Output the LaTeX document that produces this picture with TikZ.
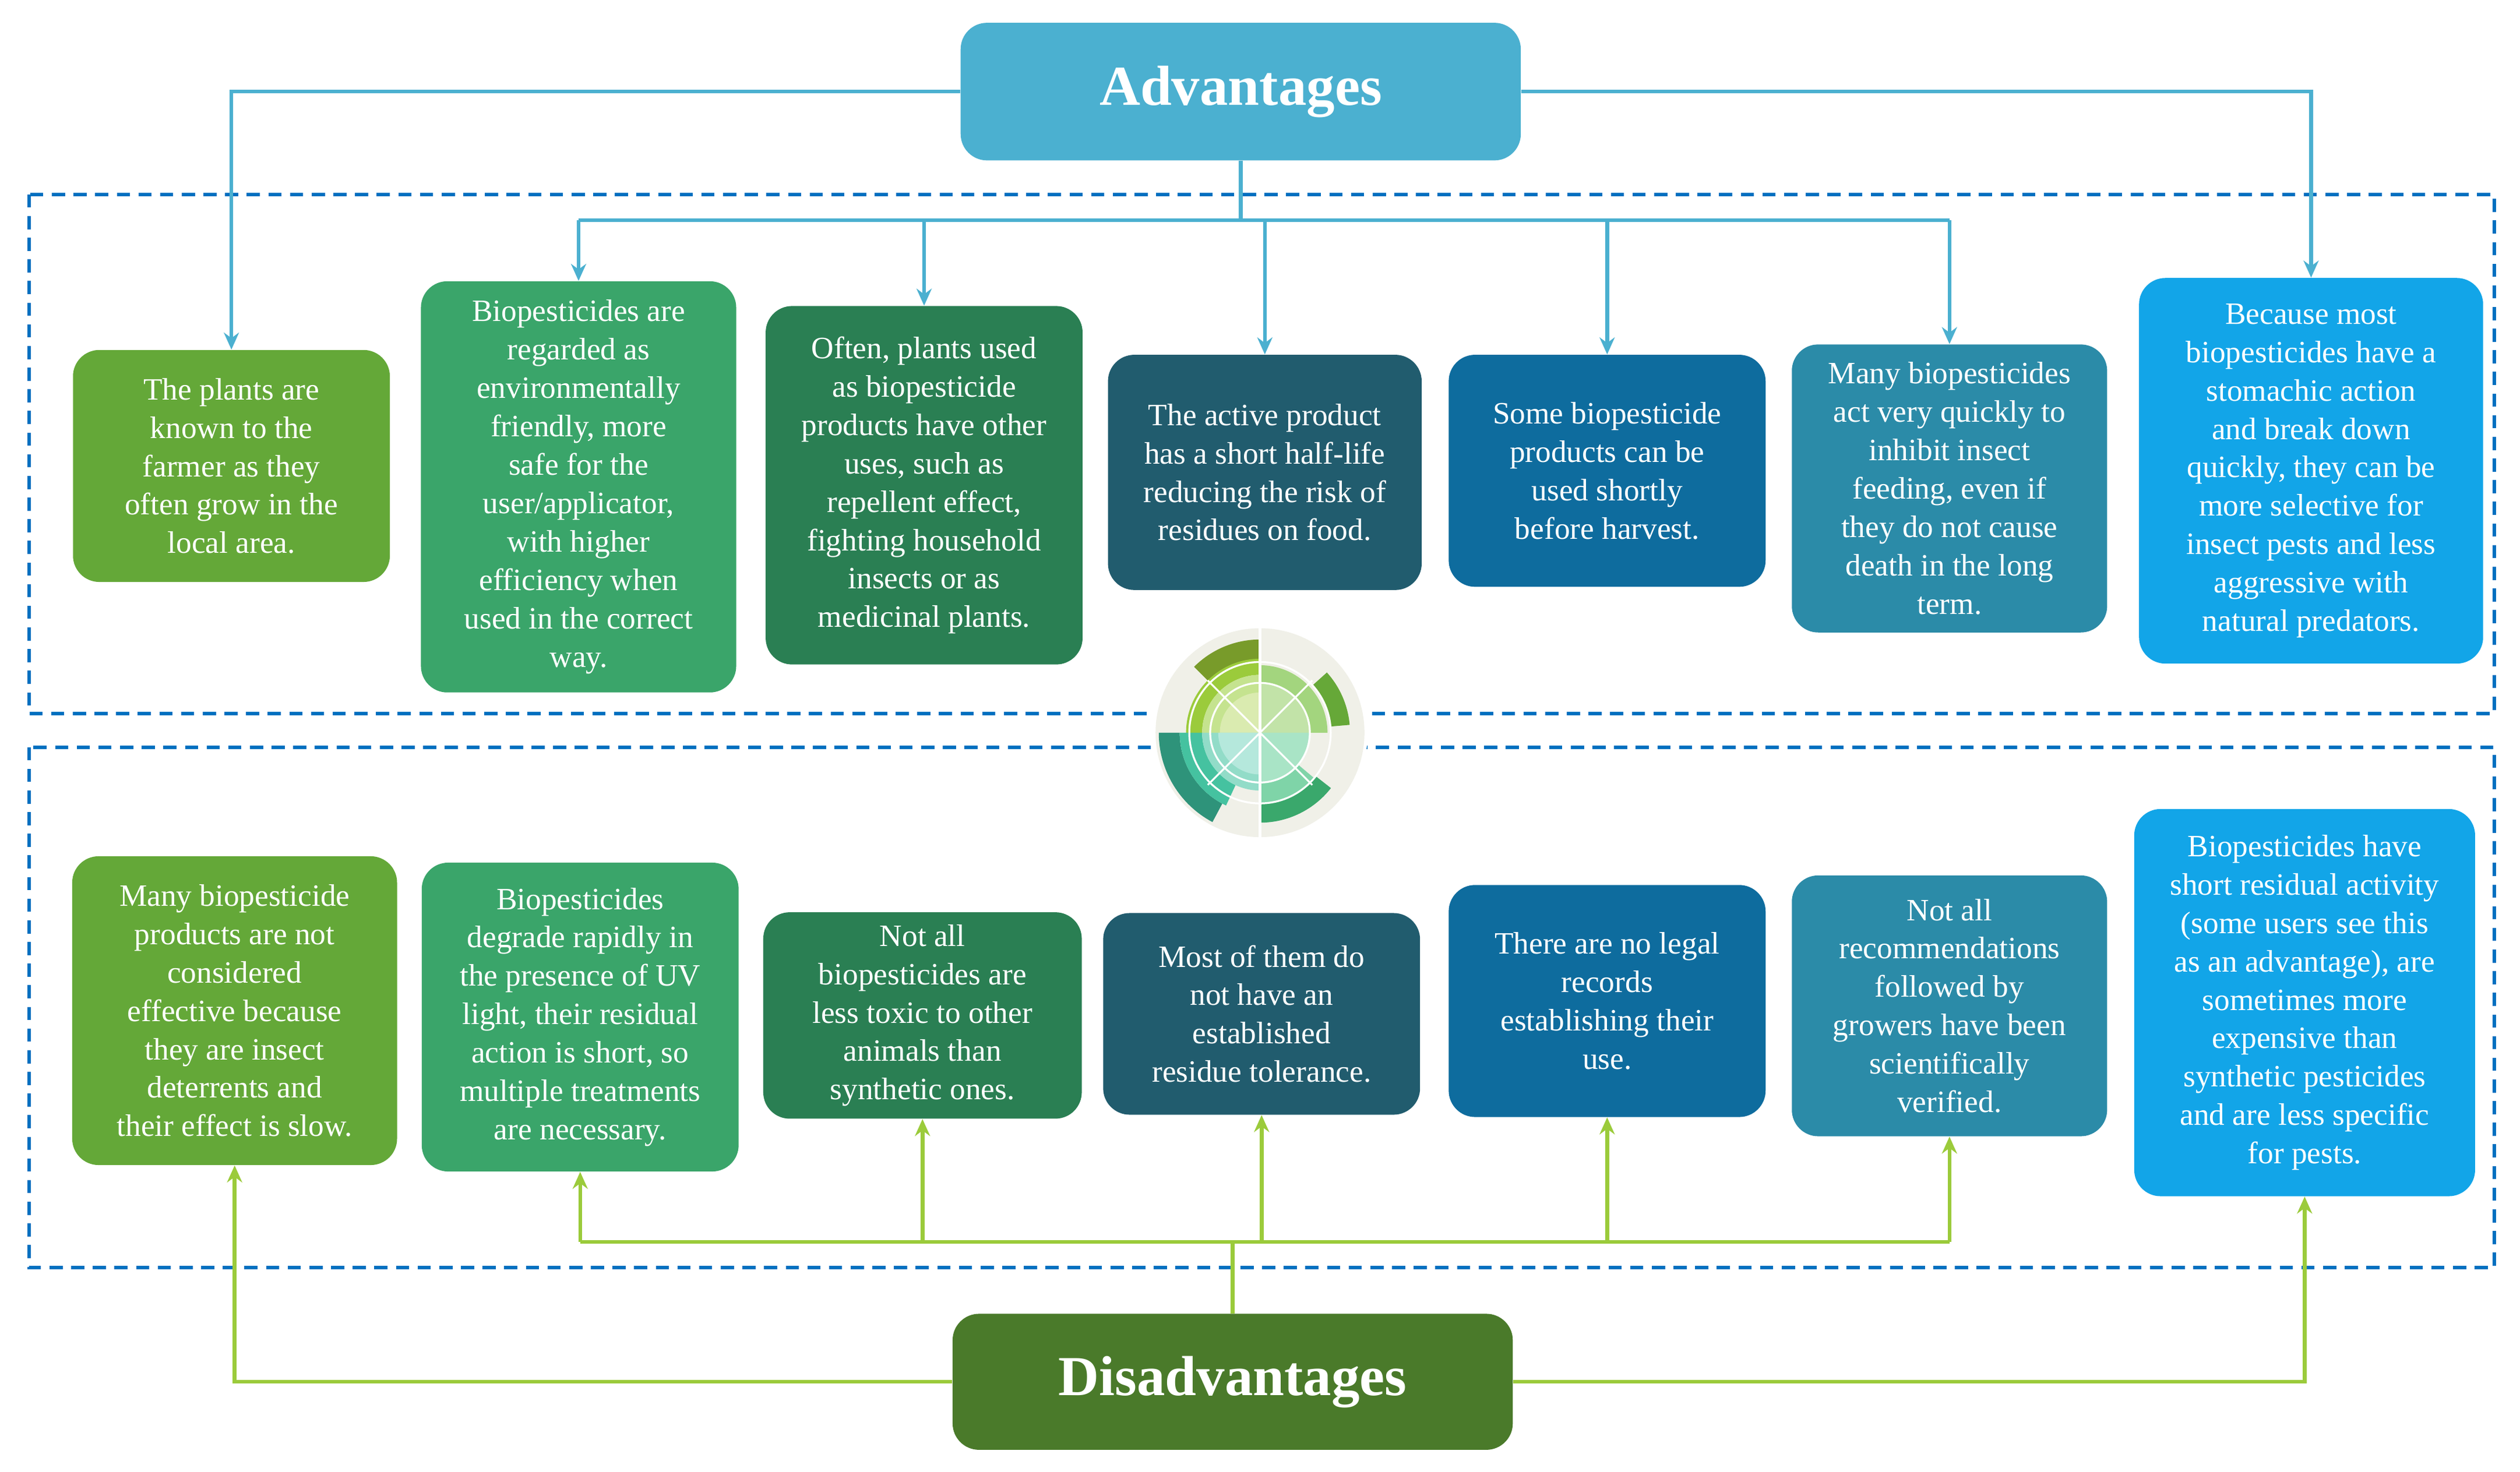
\documentclass[tikz,border=0pt]{standalone}
\usepackage{fontspec}
\setmainfont{Liberation Serif}
\usetikzlibrary{arrows.meta}
\definecolor{cA}{HTML}{4BB0D0}\definecolor{cD}{HTML}{9BCB3B}\definecolor{cB}{HTML}{0070C0}
\definecolor{g1}{HTML}{64A838}\definecolor{g2}{HTML}{3AA56A}\definecolor{g3}{HTML}{2A7F53}
\definecolor{g4}{HTML}{215C6E}\definecolor{g5}{HTML}{0E6C9E}\definecolor{g6}{HTML}{2B8BA8}
\definecolor{g7}{HTML}{12A5E8}\definecolor{dis}{HTML}{4A7A2A}
\definecolor{ring}{HTML}{F0F0E8}
\definecolor{i1}{HTML}{789B2A}\definecolor{i2}{HTML}{9BCB3B}\definecolor{i3}{HTML}{C5E38F}\definecolor{i4}{HTML}{DAEBB0}
\definecolor{i5}{HTML}{66A838}\definecolor{i6}{HTML}{A3D57E}\definecolor{i7}{HTML}{C2E3A8}
\definecolor{i8}{HTML}{2E937A}\definecolor{i9}{HTML}{45C2A0}\definecolor{i10}{HTML}{92DCC8}\definecolor{i11}{HTML}{B5E8DC}
\definecolor{i12}{HTML}{3AA86C}\definecolor{i13}{HTML}{7FD4A8}\definecolor{i14}{HTML}{A9E4C6}
\newcommand{\bx}[7]{\node[box,fill=#1,minimum width=#2*0.85pt,minimum height=#3*0.85pt] (#4) at (#5,#6) {#7};}
\newcommand{\band}[5]{\fill[#5] (#1:#3) arc[start angle=#1,end angle=#2,radius=#3] -- (#2:#4) arc[start angle=#2,end angle=#1,radius=#4] -- cycle;}
\begin{document}
\begin{tikzpicture}[x=0.3mm,y=-0.3mm,
 box/.style={rounded corners=14pt,text=white,align=center,inner sep=0pt,font=\fontsize{16.5}{20.4}\selectfont},
 aline/.style={draw=cA,line width=2pt},
 dline/.style={draw=cD,line width=2pt},
 arr/.style={-{Stealth[length=9pt,width=8pt]}},
 dbox/.style={draw=cB,line width=1.8pt,dash pattern=on 7pt off 4.5pt}]
\useasboundingbox (0,0) rectangle (1568,916);
\draw[dbox] (18,121) rectangle (1552,444);
\draw[dbox] (18,465) rectangle (1552,789);
% titles
\node[box,fill=cA,minimum width=350*0.85pt,minimum height=86*0.85pt,font=\fontsize{30}{34}\selectfont\bfseries] (adv) at (772,57) {Advantages};
\node[box,fill=dis,minimum width=350*0.85pt,minimum height=85*0.85pt,font=\fontsize{30}{34}\selectfont\bfseries] (dis) at (767,860) {Disadvantages};
% top boxes
\bx{g1}{198}{145}{t1}{144}{290}{The plants are\\known to the\\farmer as they\\often grow in the\\local area.}
\bx{g2}{197}{257}{t2}{360}{303}{Biopesticides are\\regarded as\\environmentally\\friendly, more\\safe for the\\user/applicator,\\with higher\\efficiency when\\used in the correct\\way.}
\bx{g3}{198}{224}{t3}{575}{302}{Often, plants used\\as biopesticide\\products have other\\uses, such as\\repellent effect,\\fighting household\\insects or as\\medicinal plants.}
\bx{g4}{196}{147}{t4}{787}{294}{The active product\\has a short half-life\\reducing the risk of\\residues on food.}
\bx{g5}{198}{145}{t5}{1000}{293}{Some biopesticide\\products can be\\used shortly\\before harvest.}
\bx{g6}{197}{180}{t6}{1213}{304}{Many biopesticides\\act very quickly to\\inhibit insect\\feeding, even if\\they do not cause\\death in the long\\term.}
\bx{g7}{215}{241}{t7}{1438}{293}{Because most\\biopesticides have a\\stomachic action\\and break down\\quickly, they can be\\more selective for\\insect pests and less\\aggressive with\\natural predators.}
% bottom boxes
\bx{g1}{203}{193}{b1}{146}{629}{Many biopesticide\\products are not\\considered\\effective because\\they are insect\\deterrents and\\their effect is slow.}
\bx{g2}{198}{193}{b2}{361}{633}{Biopesticides\\degrade rapidly in\\the presence of UV\\light, their residual\\action is short, so\\multiple treatments\\are necessary.}
\bx{g3}{199}{129}{b3}{574}{632}{Not all\\biopesticides are\\less toxic to other\\animals than\\synthetic ones.}
\bx{g4}{198}{126}{b4}{785}{631}{Most of them do\\not have an\\established\\residue tolerance.}
\bx{g5}{198}{145}{b5}{1000}{623}{There are no legal\\records\\establishing their\\use.}
\bx{g6}{197}{163}{b6}{1213}{626}{Not all\\recommendations\\followed by\\growers have been\\scientifically\\verified.}
\bx{g7}{213}{242}{b7}{1434}{624}{Biopesticides have\\short residual activity\\(some users see this\\as an advantage), are\\sometimes more\\expensive than\\synthetic pesticides\\and are less specific\\for pests.}
% advantage connectors
\coordinate (ab) at (772,137);
\draw[aline,arr] (adv.west) -| (t1.north);
\draw[aline,arr] (adv.east) -| (t7.north);
\draw[aline] (adv.south) -- (ab);
\draw[aline] (ab) -| (360,137);
\draw[aline] (ab) -| (1213,137);
\draw[aline,arr] (t2.north|-ab) -- (t2.north);
\draw[aline,arr] (t3.north|-ab) -- (t3.north);
\draw[aline,arr] (t4.north|-ab) -- (t4.north);
\draw[aline,arr] (t5.north|-ab) -- (t5.north);
\draw[aline,arr] (t6.north|-ab) -- (t6.north);
% disadvantage connectors
\coordinate (db) at (767,773);
\draw[dline,arr] (dis.west) -| (b1.south);
\draw[dline,arr] (dis.east) -| (b7.south);
\draw[dline] (dis.north) -- (db);
\draw[dline] (db) -| (361,773);
\draw[dline] (db) -| (1213,773);
\draw[dline,arr] (b2.south|-db) -- (b2.south);
\draw[dline,arr] (b3.south|-db) -- (b3.south);
\draw[dline,arr] (b4.south|-db) -- (b4.south);
\draw[dline,arr] (b5.south|-db) -- (b5.south);
\draw[dline,arr] (b6.south|-db) -- (b6.south);
% icon
\begin{scope}[shift={(784,456)},y=0.3mm]
\fill[white] (0,0) circle (67);
\fill[ring] (0,0) circle (65);
\band{90}{135}{45}{58}{i1}
\band{90}{180}{36}{46}{i2}
\band{90}{180}{0}{36}{i3}
\band{90}{180}{0}{25}{i4}
\band{5}{42}{44}{56}{i5}
\band{0}{90}{0}{42}{i6}
\band{0}{90}{0}{31}{i7}
\band{180}{242}{50}{63}{i8}
\band{180}{245}{36}{50}{i9}
\band{180}{270}{0}{36}{i10}
\band{180}{270}{0}{26}{i11}
\band{270}{322}{44}{56}{i12}
\band{270}{320}{0}{44}{i13}
\band{270}{360}{0}{31}{i14}
\draw[white,line width=1.6pt] (0,-66) -- (0,66);
\draw[white,line width=1pt] (45:46) -- (225:46) (135:46) -- (-45:46);
\draw[white,line width=1pt] (0,0) circle (31) (0,0) circle (44);
\end{scope}
\end{tikzpicture}
\end{document}
